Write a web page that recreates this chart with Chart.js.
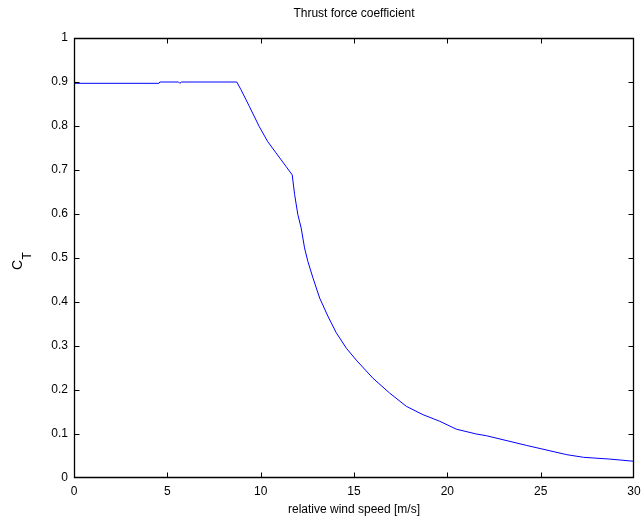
<!DOCTYPE html>
<html>
<head>
<meta charset="utf-8">
<script src="https://cdn.jsdelivr.net/npm/chart.js@4.4.1/dist/chart.umd.min.js"></script>
<style>
  html, body { margin: 0; padding: 0; background: #fff; }
  #c { display: block; }
</style>
</head>
<body>
<canvas id="c" width="644" height="522"></canvas>
<script>
// ---- data ----
const windSpeed = [0, 4.55, 4.6, 5.6, 5.67, 5.75, 8.72, 8.94, 9.39, 9.92, 10.37, 10.82, 11.36, 11.69,
  11.82, 11.99, 12.17, 12.35, 12.53, 12.8, 13.16, 13.6, 14.05, 14.59, 15.12, 16.01, 16.91, 17.8,
  18.69, 19.59, 20.48, 21.55, 22.1, 24.25, 26.4, 27.3, 28.7, 30];
const thrustCoeff = [0.897, 0.897, 0.9, 0.9, 0.897, 0.9, 0.9, 0.883, 0.845, 0.799, 0.765, 0.739, 0.708, 0.689,
  0.644, 0.599, 0.568, 0.523, 0.492, 0.455, 0.409, 0.368, 0.33, 0.295, 0.268, 0.227, 0.193, 0.163,
  0.144, 0.129, 0.111, 0.1, 0.096, 0.074, 0.053, 0.047, 0.043, 0.038];
const xTicks = [0, 5, 10, 15, 20, 25, 30];
const yTicks = [0, 0.1, 0.2, 0.3, 0.4, 0.5, 0.6, 0.7, 0.8, 0.9, 1];
const chartTitle = 'Thrust force coefficient';
const xTitle = 'relative wind speed [m/s]';
const yTitleMain = 'C';
const yTitleSub = 'T';

const FONT = '"Liberation Sans", Arial, Helvetica, sans-serif';

const framePlugin = {
  id: 'frame',
  afterDraw(chart) {
    const ctx = chart.ctx;
    const { left, right, top, bottom } = chart.chartArea;
    const xs = chart.scales.x, ys = chart.scales.y;
    ctx.save();
    ctx.strokeStyle = '#000000';
    ctx.lineWidth = 1.3;
    ctx.setLineDash([]);
    const L = Math.round(left) + 0.5, R = Math.round(right) - 0.5;
    const T = Math.round(top) + 0.5, B = Math.round(bottom) - 0.5;
    ctx.beginPath();
    ctx.moveTo(L, T); ctx.lineTo(R, T); ctx.lineTo(R, B); ctx.lineTo(L, B); ctx.closePath();
    ctx.stroke();
    ctx.lineWidth = 1;
    const len = 5;
    ctx.beginPath();
    xTicks.forEach(v => {
      const p = Math.min(Math.max(Math.round(xs.getPixelForValue(v)) + 0.5, L), R);
      ctx.moveTo(p, B); ctx.lineTo(p, B - len);
      ctx.moveTo(p, T); ctx.lineTo(p, T + len);
    });
    yTicks.forEach(v => {
      const p = Math.min(Math.max(Math.round(ys.getPixelForValue(v)) + 0.5, T), B);
      ctx.moveTo(L, p); ctx.lineTo(L + len, p);
      ctx.moveTo(R, p); ctx.lineTo(R - len, p);
    });
    ctx.stroke();

    // title
    ctx.fillStyle = '#000';
    ctx.font = '12px ' + FONT;
    ctx.textAlign = 'center';
    ctx.textBaseline = 'middle';
    ctx.fillText(chartTitle, (left + right) / 2, 14);

    // y axis title C_T (rotated)
    ctx.translate(22, 270);
    ctx.rotate(-Math.PI / 2);
    ctx.textAlign = 'left';
    ctx.textBaseline = 'alphabetic';
    ctx.font = '14px ' + FONT;
    ctx.fillText(yTitleMain, 0, 0);
    const w = ctx.measureText(yTitleMain).width;
    ctx.font = '12px ' + FONT;
    ctx.fillText(yTitleSub, w + 0.5, 9);
    ctx.restore();
  }
};

new Chart(document.getElementById('c'), {
  type: 'scatter',
  data: {
    datasets: [{
      data: windSpeed.map((x, i) => ({ x: x, y: thrustCoeff[i] })),
      showLine: true,
      borderColor: '#0000ff',
      borderWidth: 1,
      pointRadius: 0,
      fill: false,
      tension: 0
    }]
  },
  options: {
    responsive: false,
    animation: false,
    devicePixelRatio: 1,
    layout: { padding: { top: 38, right: 10, left: 0, bottom: 0 } },
    plugins: { legend: { display: false }, tooltip: { enabled: false }, title: { display: false } },
    scales: {
      x: {
        type: 'linear', min: 0, max: 30,
        afterBuildTicks: s => { s.ticks = xTicks.map(v => ({ value: v })); },
        afterFit: s => { s.height = 44; s.paddingLeft = 0; s.paddingRight = 0; },
        grid: { display: false, drawTicks: false },
        border: { display: false },
        ticks: { color: '#000', font: { family: FONT, size: 12 }, padding: 6, maxRotation: 0, autoSkip: false,
          callback: v => String(v) },
        title: { display: true, text: xTitle, color: '#000', font: { family: FONT, size: 12 }, padding: { top: 0, bottom: 5 } }
      },
      y: {
        type: 'linear', min: 0, max: 1,
        afterBuildTicks: s => { s.ticks = yTicks.map(v => ({ value: v })); },
        afterFit: s => { s.width = 74; s.paddingTop = 0; s.paddingBottom = 0; },
        grid: { display: false, drawTicks: false },
        border: { display: false },
        ticks: { color: '#000', font: { family: FONT, size: 12 }, padding: 6, autoSkip: false,
          callback: v => String(v) }
      }
    }
  },
  plugins: [framePlugin]
});
</script>
</body>
</html>
